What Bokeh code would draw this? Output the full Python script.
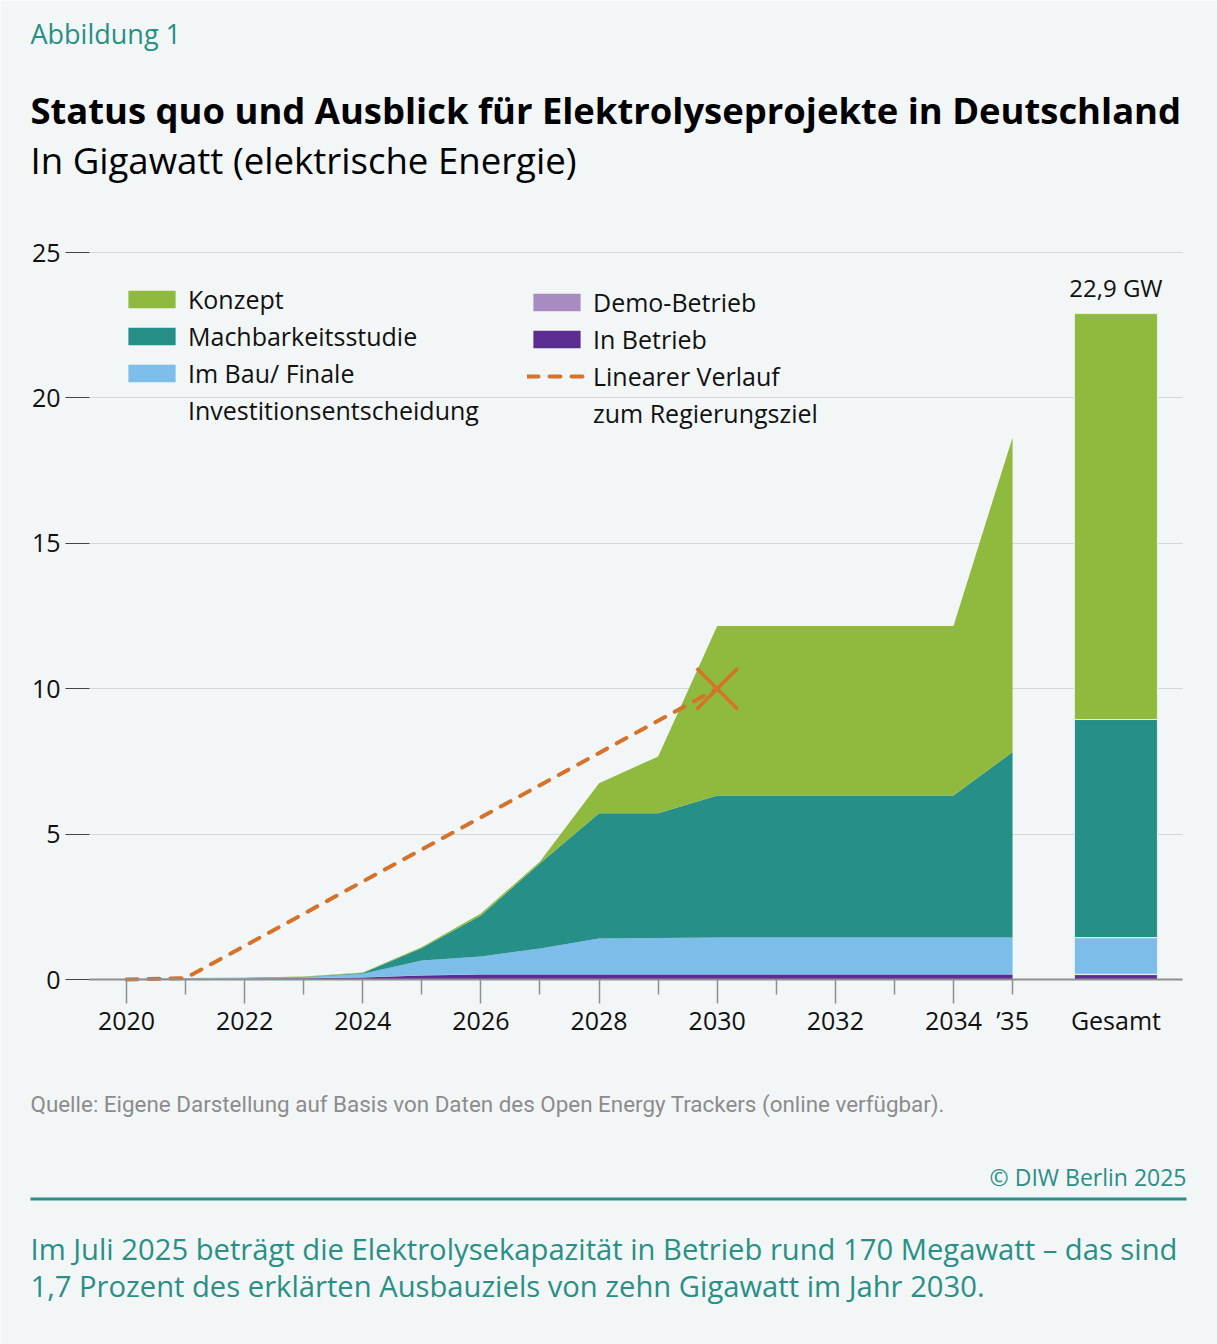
from bokeh.plotting import figure
from bokeh.models import (ColumnDataSource, Range1d, FixedTicker, Label, Legend,
                          LegendItem, LinearAxis)
from bokeh.core.properties import value
from bokeh.embed import file_html
from bokeh.resources import INLINE

# ---------------- data ----------------
years = list(range(2020, 2036))
in_betrieb   = [0.01, 0.02, 0.03, 0.04, 0.07, 0.14, 0.17, 0.17, 0.17, 0.17, 0.17, 0.17, 0.17, 0.17, 0.17, 0.17]
demo_betrieb = [0.00, 0.01, 0.01, 0.01, 0.01, 0.01, 0.01, 0.01, 0.01, 0.01, 0.01, 0.01, 0.01, 0.01, 0.01, 0.01]
im_bau       = [0.00, 0.01, 0.01, 0.02, 0.12, 0.50, 0.61, 0.89, 1.23, 1.25, 1.26, 1.26, 1.26, 1.26, 1.26, 1.26]
machbarkeit  = [0.01, 0.01, 0.01, 0.02, 0.02, 0.43, 1.41, 2.93, 4.31, 4.29, 4.89, 4.89, 4.89, 4.89, 4.89, 6.38]
konzept      = [0.00, 0.00, 0.00, 0.01, 0.02, 0.04, 0.07, 0.06, 1.03, 1.95, 5.83, 5.83, 5.83, 5.83, 5.83, 10.82]

gesamt_in_betrieb = [0.17]
gesamt_demo = [0.01]
gesamt_im_bau = [1.26]
gesamt_machbarkeit = [7.50]
gesamt_konzept = [13.96]
gesamt_label = "22,9 GW"

ziel_years = [2020, 2021, 2030]
ziel_values = [0.0, 0.05, 10.0]
ziel_marker_year = [2030]
ziel_marker_value = [10.0]

major_years = [2020, 2022, 2024, 2026, 2028, 2030, 2032, 2034]
minor_years = [2021, 2023, 2025, 2027, 2029, 2031, 2033, 2035]
label_ticks = [2020, 2022, 2024, 2026, 2028, 2030, 2032, 2034, 2035, 2036.75]
label_texts = ["2020", "2022", "2024", "2026", "2028", "2030", "2032", "2034", "’35", "Gesamt"]
y_ticks = [0, 5, 10, 15, 20, 25]

colors = ["#5B2D90", "#A88BC0", "#7DBDEA", "#268F87", "#8FBA3D"]
ORANGE = "#D6722A"
TEAL = "#2A8F86"
BG = "#F2F6F7"
FONT = "Open Sans"

# ---------------- pixel layout helpers ----------------
W, H = 1217, 1344
PL, PR, PB = 89, 1182, 979          # plot area left/right/baseline (page px)
PX_2020, PX_PER_YEAR = 126.0, 59.07
PX_PER_UNIT = 29.08

def xd(px):
    return 2020 + (px - PX_2020) / PX_PER_YEAR

def yd(py):
    return (PB - py) / PX_PER_UNIT

GESAMT_X = 2036.75
GESAMT_W = 83 / PX_PER_YEAR

p = figure(width=W, height=H, output_backend="svg", toolbar_location=None,
           x_range=Range1d(xd(0), xd(W)), y_range=Range1d(yd(H), yd(0)),
           min_border=0)
p.min_border_left = p.min_border_right = p.min_border_top = p.min_border_bottom = 0
p.background_fill_color = BG
p.border_fill_color = BG
p.outline_line_color = None

# grid
p.xgrid.visible = False
p.ygrid.ticker = FixedTicker(ticks=y_ticks)
p.ygrid.grid_line_color = "#D2D7D9"
p.ygrid.grid_line_width = 1.2
try:
    p.ygrid.cross_bounds = (xd(PL), xd(PR))
except Exception:
    p.ygrid.visible = False
    p.segment(x0=[xd(PL)] * 5, x1=[xd(PR)] * 5, y0=y_ticks[1:], y1=y_ticks[1:],
              line_color="#D2D7D9", line_width=1.2, level="underlay")

# y axis (drawn at the left edge of the plot area)
yax = p.yaxis[0]
yax.fixed_location = xd(PL)
yax.ticker = FixedTicker(ticks=y_ticks)
yax.axis_line_color = None
yax.major_tick_in = 0
yax.major_tick_out = 24
yax.major_tick_line_color = "#444444"
yax.major_tick_line_width = 1.2
yax.minor_tick_line_color = None
yax.major_label_text_font = FONT
yax.major_label_text_font_size = "25px"
yax.major_label_text_color = "#111111"
yax.major_label_standoff = 5

# x axis 1: line and tick marks only
xax = p.xaxis[0]
xax.fixed_location = 0
xax.bounds = (xd(PL), xd(PR))
xax.ticker = FixedTicker(ticks=major_years, minor_ticks=minor_years)
xax.axis_line_color = "#8F8F8F"
xax.axis_line_width = 2
xax.major_tick_in = 0
xax.major_tick_out = 24
xax.minor_tick_in = 0
xax.minor_tick_out = 15
xax.major_tick_line_color = "#8F8F8F"
xax.minor_tick_line_color = "#8F8F8F"
xax.major_tick_line_width = 1.5
xax.minor_tick_line_width = 1.5
xax.major_label_overrides = {yr: "" for yr in major_years}
xax.major_label_text_font_size = "1px"
xax.major_label_standoff = 0

# x axis 2: tick labels incl. '35 and Gesamt
xlab = LinearAxis(ticker=FixedTicker(ticks=label_ticks, minor_ticks=[]),
                  fixed_location=0,
                  major_label_overrides=dict(zip(label_ticks, label_texts)),
                  axis_line_color=None, major_tick_line_color=None, minor_tick_line_color=None,
                  major_tick_in=0, major_tick_out=0, minor_tick_in=0, minor_tick_out=0,
                  major_label_standoff=23, major_label_text_font=FONT,
                  major_label_text_font_size="25px", major_label_text_color="#111111")
p.add_layout(xlab, "below")

# stacked areas
src = ColumnDataSource(dict(year=years, a=in_betrieb, b=demo_betrieb, c=im_bau,
                            d=machbarkeit, e=konzept))
areas = p.varea_stack(["a", "b", "c", "d", "e"], x="year", color=colors, source=src)

# Gesamt bar
gsrc = ColumnDataSource(dict(x=[GESAMT_X], a=gesamt_in_betrieb, b=gesamt_demo, c=gesamt_im_bau,
                             d=gesamt_machbarkeit, e=gesamt_konzept))
p.vbar_stack(["a", "b", "c", "d", "e"], x="x", width=GESAMT_W, color=colors, source=gsrc,
             line_color="#E6EFEF", line_width=1)
gesamt_total = sum(gesamt_in_betrieb + gesamt_demo + gesamt_im_bau + gesamt_machbarkeit + gesamt_konzept)
p.add_layout(Label(x=GESAMT_X, y=gesamt_total, y_offset=26, text=gesamt_label, text_font=FONT,
                   text_font_size="24px", text_color="#111111", text_align="center",
                   text_baseline="middle"))

# target line
line = p.line(ziel_years, ziel_values, line_color=ORANGE, line_width=4,
              line_dash="11 11", line_cap="round")
p.scatter(ziel_marker_year, ziel_marker_value, marker="x", size=58,
          line_color=ORANGE, line_width=3.5)
blank = p.line([], [], line_alpha=0)

# legends
def style_legend(lg):
    lg.label_text_font = FONT
    lg.label_text_font_size = "25px"
    lg.label_text_color = "#111111"
    lg.glyph_width = 59
    lg.glyph_height = 22
    lg.label_standoff = 7
    lg.spacing = 3
    lg.padding = 0
    lg.margin = 0
    lg.border_line_color = None
    lg.background_fill_alpha = 0

leg1 = Legend(items=[LegendItem(label="Konzept", renderers=[areas[4]]),
                     LegendItem(label="Machbarkeitsstudie", renderers=[areas[3]]),
                     LegendItem(label="Im Bau/ Finale", renderers=[areas[2]]),
                     LegendItem(label="Investitionsentscheidung", renderers=[blank])],
              location=(122, H - 427))
leg2 = Legend(items=[LegendItem(label="Demo-Betrieb", renderers=[areas[1]]),
                     LegendItem(label="In Betrieb", renderers=[areas[0]]),
                     LegendItem(label="Linearer Verlauf", renderers=[line]),
                     LegendItem(label="zum Regierungsziel", renderers=[blank])],
              location=(527, H - 430))
style_legend(leg1)
style_legend(leg2)
p.add_layout(leg1)
p.add_layout(leg2)

# ---------------- header & footer texts ----------------
def txt(s, px, py, size, color, align="left", font=FONT, style="normal"):
    p.text(x=[xd(px)], y=[yd(py)], text=[s], text_font=value(font),
           text_font_size=value(f"{size}px"), text_color=color, text_align=align,
           text_baseline="middle", text_font_style=style)

txt("Abbildung 1", 30, 33, 27, TEAL)
txt("Status quo und Ausblick für Elektrolyseprojekte in Deutschland", 30, 109, 36.4,
    "#000000", style="bold")
txt("In Gigawatt (elektrische Energie)", 30, 159, 36.6, "#000000")
txt("Quelle: Eigene Darstellung auf Basis von Daten des Open Energy Trackers (online verfügbar).",
    30, 1103, 22.4, "#8C8C8C", font="Roboto")
txt("© DIW Berlin 2025", 1186, 1176, 23, TEAL, align="right")
p.segment(x0=[xd(30)], y0=[yd(1198.5)], x1=[xd(1186)], y1=[yd(1198.5)], line_color=TEAL,
          line_width=3)
txt("Im Juli 2025 beträgt die Elektrolysekapazität in Betrieb rund 170 Megawatt – das sind",
    30, 1248, 29.2, TEAL)
txt("1,7 Prozent des erklärten Ausbauziels von zehn Gigawatt im Jahr 2030.", 30, 1285, 29.2, TEAL)

open("out.html", "w").write(file_html(p, INLINE))
